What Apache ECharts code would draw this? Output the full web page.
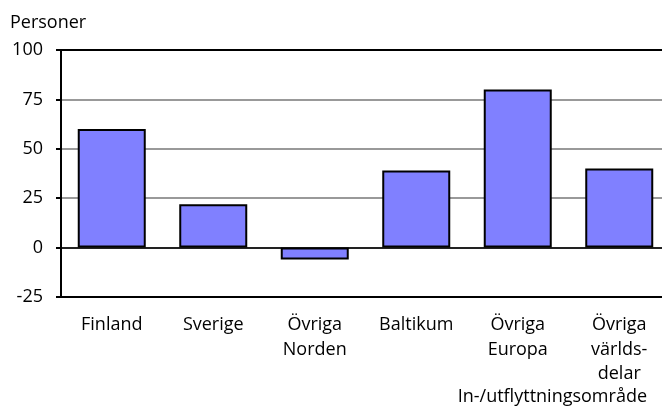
<!DOCTYPE html>
<html><head><meta charset="utf-8">
<script src="https://cdn.jsdelivr.net/npm/echarts@6/dist/echarts.min.js"></script>
<style>html,body{margin:0;padding:0;background:#fff}#c{width:662px;height:409px}</style>
</head><body><div id="c"></div>
<script>
const categories = ['Finland', 'Sverige', 'Övriga\nNorden', 'Baltikum', 'Övriga\nEuropa', 'Övriga\nvärlds-\ndelar'];
const values = [60, 22, -6, 39, 80, 40];
const yTicks = [-25, 0, 25, 50, 75, 100];
const yName = 'Personer';
const xName = 'In-/utflyttningsområde';

const FONT = '"Open Sans"';
const chart = echarts.init(document.getElementById('c'), null, {renderer: 'canvas'});
chart.setOption({
  animation: false,
  backgroundColor: '#fff',
  grid: {left: 61, top: 50, width: 609, height: 247, outerBoundsMode: 'none', containLabel: false},
  xAxis: {
    type: 'category',
    data: categories,
    axisLine: {onZero: false, lineStyle: {color: '#000', width: 2}},
    axisTick: {show: false},
    axisLabel: {color: '#000', fontFamily: FONT, fontSize: 18, lineHeight: 24.5, margin: 16, interval: 0}
  },
  yAxis: {
    type: 'value',
    min: yTicks[0], max: yTicks[yTicks.length - 1], interval: 25,
    axisLine: {show: true, lineStyle: {color: '#000', width: 2}},
    axisTick: {show: true, length: 5, lineStyle: {color: '#000', width: 2}},
    axisLabel: {color: '#000', fontFamily: FONT, fontSize: 18, margin: 18},
    splitLine: {show: true, lineStyle: {color: ['#000', '#222', '#999', '#999', '#999', '#000'], width: 2}}
  },
  series: [{
    type: 'bar',
    data: values,
    barWidth: '67%',
    itemStyle: {color: '#8080FF', borderColor: '#000', borderWidth: 2}
  }],
  graphic: [
    {type: 'text', x: 10, y: 23, style: {text: yName, fill: '#000', font: '18px ' + FONT, verticalAlign: 'middle'}},
    {type: 'text', x: 647, y: 397, style: {text: xName, fill: '#000', font: '18px ' + FONT, align: 'right', verticalAlign: 'middle'}}
  ]
});
</script></body></html>
